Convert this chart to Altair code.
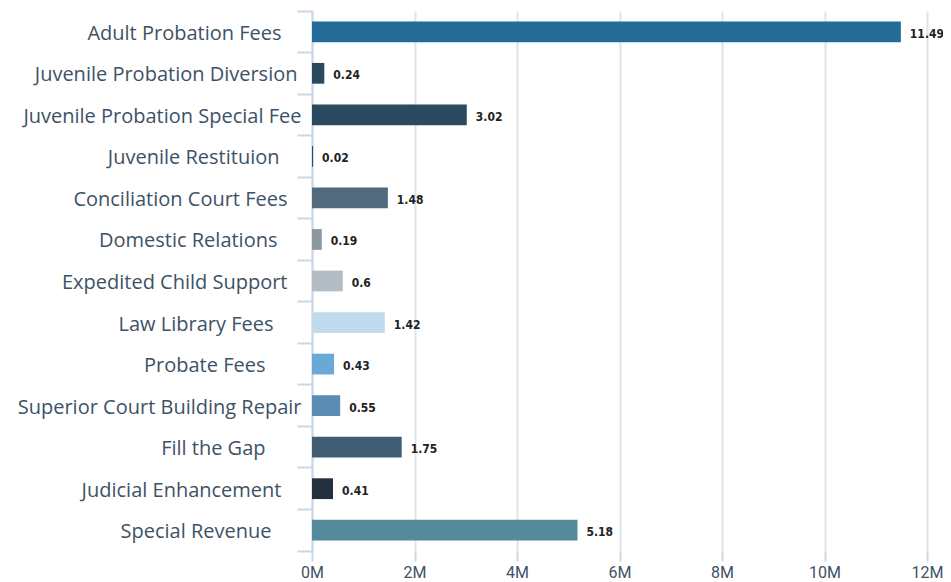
import altair as alt
import pandas as pd

categories = [
    "Adult Probation Fees",
    "Juvenile Probation Diversion",
    "Juvenile Probation Special Fee",
    "Juvenile Restituion",
    "Conciliation Court Fees",
    "Domestic Relations",
    "Expedited Child Support",
    "Law Library Fees",
    "Probate Fees",
    "Superior Court Building Repair",
    "Fill the Gap",
    "Judicial Enhancement",
    "Special Revenue",
]
values_millions = [11.49, 0.24, 3.02, 0.02, 1.48, 0.19, 0.6, 1.42, 0.43, 0.55, 1.75, 0.41, 5.18]
bar_colors = [
    "#246b97", "#2b4a5f", "#2b4a5f", "#2b4a5f", "#536a7d", "#8a979f", "#b5bdc4",
    "#c0dbed", "#6aa8d8", "#5b8cb3", "#3f5c72", "#22303d", "#548a99",
]
x_ticks = [0, 2, 4, 6, 8, 10, 12]

df = pd.DataFrame({"category": categories, "value": values_millions})

axis_col = "#c8d8e8"
text_col = "#3d5266"

y_enc = alt.Y(
    "category:N",
    sort=categories,
    title=None,
    scale=alt.Scale(paddingInner=0, paddingOuter=0),
    axis=alt.Axis(
        domain=True, domainColor=axis_col, domainWidth=2,
        ticks=True, tickColor=axis_col, tickWidth=2, tickSize=15,
        bandPosition=1, tickExtra=True,
        labelFont="Open Sans", labelFontSize=20, labelColor=text_col,
        labelLimit=400, labelAlign="right", labelOffset=2,
        labelPadding={"expr": "56 - 2*length(datum.label)"},
        grid=False,
    ),
)

x_enc = alt.X(
    "value:Q",
    title=None,
    scale=alt.Scale(domain=[0, 12], nice=False),
    axis=alt.Axis(
        values=x_ticks, labelExpr="datum.value + 'M'", labelFlush=False,
        domain=False, grid=True, gridColor="#e0e3e7", gridWidth=2,
        ticks=True, tickColor=axis_col, tickWidth=2, tickSize=10,
        labelFont="Roboto", labelFontSize=16, labelColor=text_col, labelPadding=3,
    ),
)

bars = alt.Chart(df).mark_bar(
    height=alt.RelativeBandSize(0.5)
).encode(
    y=y_enc,
    x=x_enc,
    color=alt.Color("category:N", scale=alt.Scale(domain=categories, range=bar_colors), legend=None),
)

labels = alt.Chart(df).mark_text(
    align="left", baseline="middle", dx=9, dy=2,
    font="DejaVu Sans Condensed", fontWeight="bold",
    fontSize=12, color="#222222",
).encode(
    y=alt.Y("category:N", sort=categories),
    x=alt.X("value:Q"),
    text=alt.Text("value:Q"),
)

chart = alt.layer(bars, labels).properties(
    width=615, height=540,
    autosize=alt.AutoSizeParams(type="none"),
    padding={"left": 304, "top": 3, "right": 16, "bottom": 30},
).configure_view(stroke=None)

chart.save("out.html", embed_options={"renderer": "svg", "actions": False})
